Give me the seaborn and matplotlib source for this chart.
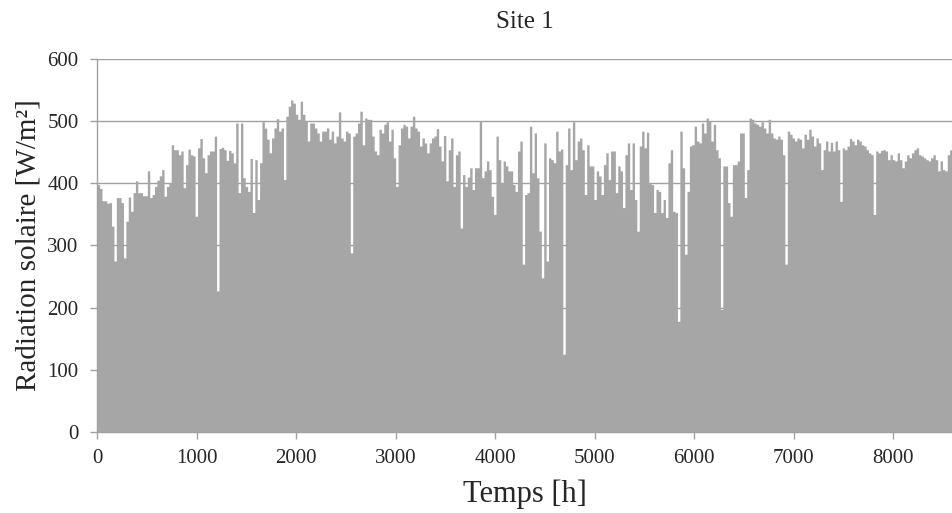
import numpy as np
import pandas as pd
import matplotlib
matplotlib.use('Agg')
import matplotlib.pyplot as plt
import seaborn as sns

# Daily solar radiation values [W/m2] (one value per 24 h)
part1 = [398, 392, 372, 372, 368, 369, 331, 275, 377, 377, 369, 280, 339, 378, 355, 385, 404, 385,
         385, 380, 380, 420, 377, 382, 395, 405, 412, 422, 379, 395, 401, 462, 454, 454, 446, 452,
         393, 430, 455, 446, 444, 347, 457, 472]
part2 = [441, 417, 446, 452, 452, 476, 227, 456, 458, 454, 437, 453, 449, 433, 497, 385, 497, 409,
         395, 387, 440, 353, 438, 374, 433, 499, 489, 471, 449, 473, 489, 504, 484, 489, 406, 508,
         524, 534, 529, 511, 503, 532, 511, 500]
part3 = [468, 497, 497, 489, 481, 468, 484, 484, 489, 471, 484, 465, 476, 515, 473, 468, 484, 481,
         288, 476, 481, 497, 516, 462, 505, 503, 503, 476, 452, 446, 487, 481, 495, 499, 468, 487,
         441, 395, 462, 489, 495, 492, 473, 492, 508]
part4 = [489, 484, 460, 473, 465, 449, 465, 473, 476, 488, 460, 436, 477, 404, 454, 473, 395, 446,
         452, 328, 414, 395, 410, 425, 390, 425, 425, 500, 409, 420, 436, 422, 379, 350, 476, 438,
         401, 436, 428, 420, 420, 398, 387, 452, 468]
part5 = [270, 382, 385, 492, 417, 481, 409, 323, 248, 465, 275, 441, 438, 433, 484, 452, 455, 125,
         430, 489, 422, 499, 438, 468, 473, 454, 382, 462, 428, 428, 374, 420, 412, 382, 430, 449,
         406, 452, 452, 385, 428, 420, 361, 446, 465]
part6 = [390, 465, 374, 323, 460, 484, 457, 482, 401, 398, 353, 390, 387, 353, 374, 345, 433, 454,
         355, 353, 178, 484, 425, 286, 387, 460, 462, 492, 468, 465, 497, 481, 505, 501, 468, 495,
         454, 441, 197, 428, 428, 369, 347]
part7 = [430, 430, 436, 481, 481, 377, 422, 505, 503, 497, 495, 492, 499, 489, 481, 503, 481, 473,
         471, 476, 471, 446, 270, 484, 479, 473, 468, 473, 471, 457, 479, 471, 487, 476, 460, 473,
         465, 422, 454, 468, 452, 466, 452, 468]
part8 = [454, 371, 457, 454, 460, 472, 468, 462, 471, 468, 462, 460, 454, 449, 446, 350, 452, 449,
         453, 454, 452, 438, 446, 438, 436, 449, 438, 425, 436, 446, 441, 449, 454, 457, 446, 444,
         441, 438, 436, 441, 446, 438, 420, 436, 422, 420, 446, 454]

radiation = part1 + part2 + part3 + part4 + part5 + part6 + part7 + part8
step_h = 24
hours = np.arange(len(radiation)) * step_h + step_h / 2
data = pd.DataFrame({'hour': hours, 'radiation': radiation})
t_end = len(radiation) * step_h

sns.set_style('white')
plt.rcParams['font.family'] = ['Liberation Serif', 'DejaVu Serif']

fig = plt.figure(figsize=(9.53, 5.13), dpi=100)
ax = fig.add_axes([0.102, 0.158, 0.897, 0.727])

sns.histplot(data=data, x='hour', weights='radiation', binwidth=step_h, binrange=(0, t_end),
             element='step', fill=True, color='#a6a6a6', alpha=1, linewidth=0, ax=ax)

ax.set_xlim(0, t_end)
ax.set_ylim(0, 600)
ax.set_xticks(np.arange(0, 8001, 1000))
ax.set_yticks(np.arange(0, 601, 100))
ax.set_axisbelow(True)
ax.yaxis.grid(True, color='#a0a0a0', linewidth=1)
ax.xaxis.grid(False)

for side in ['top', 'right']:
    ax.spines[side].set_visible(False)
for side in ['left', 'bottom']:
    ax.spines[side].set_color('#a0a0a0')
    ax.spines[side].set_linewidth(1)
ax.tick_params(axis='both', which='major', length=5, width=1, color='#a0a0a0',
               labelsize=15, direction='out', left=True, bottom=True)
ax.tick_params(axis='y', pad=8.5)
ax.tick_params(axis='x', pad=7.5)

ax.set_title('Site 1', fontsize=18, pad=22)
ax.set_xlabel('Temps [h]', fontsize=22, labelpad=8)
ax.set_ylabel('Radiation solaire [W/m²]', fontsize=21, labelpad=4)

fig.savefig('out.png', dpi=100)
